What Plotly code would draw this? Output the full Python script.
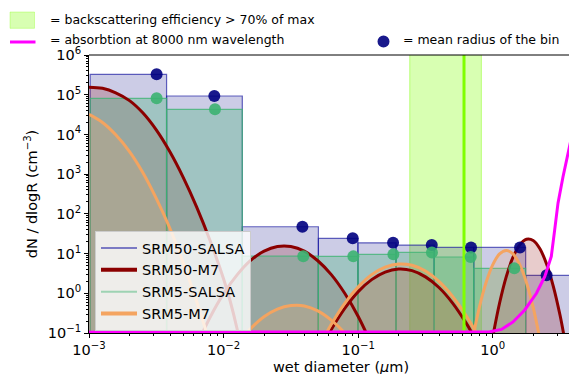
import plotly.graph_objects as go

FONT = "DejaVu Sans"

# ---------------------------------------------------------------------------
# SALSA sectional size distributions (wet diameter in µm, dN/dlogR in cm^-3)
# ---------------------------------------------------------------------------
bin_edges = [1.02e-3, 3.77e-3, 1.377e-2, 5.06e-2, 9.95e-2, 0.191, 0.367, 0.721, 1.754, 4.0]
srm50_salsa = [3.27e5, 9.27e4, 47.3, 24.2, 18.7, 16.4, 14.3, 14.3, 2.83]
srm5_salsa = [8.1e4, 4.29e4, 8.6, 8.5, 9.55, 10.7, 8.2, 4.24]

# mean diameter of each bin
srm50_mean_d = [3.18e-3, 8.53e-3, 0.0385, 0.0910, 0.1815, 0.3518, 0.689, 1.592, 2.51]
srm5_mean_d = [3.18e-3, 8.63e-3, 0.0391, 0.0920, 0.1824, 0.353, 0.685, 1.445]

# ---------------------------------------------------------------------------
# M7 modal size distributions (one curve per mode)
# ---------------------------------------------------------------------------
srm50_m7 = [
    # nucleation
    ([1.0e-3, 1.26e-3, 1.58e-3, 2.0e-3, 2.51e-3, 3.16e-3, 3.98e-3, 5.01e-3, 6.31e-3,
      7.94e-3, 1.0e-2, 1.12e-2, 1.26e-2, 1.35e-2],
     [1.55e5, 1.45e5, 1.12e5, 7.1e4, 3.5e4, 1.3e4, 3.7e3, 830, 148, 21, 2.3, 0.63, 0.126, 0.04]),
    # Aitken
    ([6.31e-3, 7.94e-3, 0.01, 0.0126, 0.0158, 0.02, 0.0251, 0.0316, 0.0398, 0.0501,
      0.0631, 0.0794, 0.1, 0.126],
     [0.049, 0.25, 0.98, 2.9, 6.6, 11.5, 15, 15, 11.5, 6.6, 2.95, 1.0, 0.26, 0.05]),
    # accumulation
    ([0.0562, 0.0631, 0.0794, 0.1, 0.1259, 0.1585, 0.1995, 0.2512, 0.3162, 0.3981,
      0.5012, 0.631, 0.708, 0.794],
     [0.060, 0.123, 0.417, 1.10, 2.21, 3.42, 4.06, 3.71, 2.59, 1.40, 0.575, 0.182, 0.093, 0.045]),
    # coarse
    ([0.955, 1.0, 1.122, 1.259, 1.413, 1.585, 1.778, 1.995, 2.239, 2.512, 2.818, 3.162,
      3.388, 3.548],
     [0.034, 0.081, 0.56, 2.63, 8.1, 16.6, 22.9, 21.4, 13.2, 5.4, 1.48, 0.275, 0.081, 0.034]),
]

srm5_m7 = [
    ([1.0e-3, 1.26e-3, 1.58e-3, 2.0e-3, 2.51e-3, 3.16e-3, 3.98e-3, 5.01e-3, 6.31e-3,
      7.41e-3, 7.94e-3],
     [3.2e4, 2.0e4, 9.8e3, 3.7e3, 1.1e3, 245, 44, 5.9, 0.62, 0.11, 0.05]),
    ([0.01413, 0.01585, 0.01995, 0.02512, 0.03162, 0.03981, 0.05012, 0.0631, 0.0794, 0.0891],
     [0.083, 0.129, 0.257, 0.40, 0.49, 0.48, 0.36, 0.21, 0.10, 0.062]),
    ([0.0562, 0.0631, 0.0794, 0.1, 0.1259, 0.1585, 0.1995, 0.2512, 0.3162, 0.3981,
      0.5012, 0.631, 0.759, 0.832],
     [0.081, 0.166, 0.56, 1.45, 2.95, 4.57, 5.47, 5.07, 3.63, 2.0, 0.85, 0.28, 0.098, 0.054]),
    ([0.692, 0.724, 0.794, 0.891, 1.0, 1.122, 1.259, 1.413, 1.585, 1.778, 1.995, 2.188, 2.291],
     [0.045, 0.102, 0.44, 1.86, 5.25, 9.8, 12.0, 9.8, 5.25, 1.86, 0.44, 0.102, 0.045]),
]

# absorption at 8000 nm (scaled onto the number-concentration axis)
absorb_d = [1e-3, 0.674, 0.948, 1.159, 1.413, 1.726, 2.11, 2.43, 2.72, 2.88, 3.05, 3.32, 3.66, 4.0]
absorb_v = [0.104, 0.1035, 0.107, 0.123, 0.19, 0.38, 1.0, 2.63, 8.5, 38.9, 186, 851, 4074, 1.6e4]

# backscattering efficiency > 70 % of max, and its peak
bsc_lo, bsc_hi, bsc_peak = 0.2415, 0.822, 0.611

x_tickvals = [1e-3, 1e-2, 1e-1, 1]
x_ticktext = ["10<sup>−3</sup>", "10<sup>−2</sup>", "10<sup>−1</sup>", "10<sup>0</sup>"]
y_tickvals = [1e-1, 1, 10, 1e2, 1e3, 1e4, 1e5, 1e6]
y_ticktext = ["10<sup>−1</sup>", "10<sup>0</sup>", "10<sup>1</sup>", "10<sup>2</sup>",
              "10<sup>3</sup>", "10<sup>4</sup>", "10<sup>5</sup>", "10<sup>6</sup>"]

FLOOR = 1e-3      # below the visible y range; closes filled polygons
CEIL = 1e8

NAVY_FILL = "rgba(0,0,128,0.2)"
NAVY_EDGE = "rgba(20,20,160,0.65)"
GREEN_FILL = "rgba(60,179,113,0.3)"
GREEN_EDGE = "rgba(60,179,113,0.75)"
RED = "#8b0000"
RED_FILL = "rgba(139,0,0,0.2)"
ORANGE = "#f4a460"
ORANGE_FILL = "rgba(244,164,96,0.2)"
CHART = "rgb(127,255,0)"


def bin_polygons(edges, heights):
    xs, ys = [], []
    for i, h in enumerate(heights):
        lo, hi = edges[i], edges[i + 1]
        xs += [lo, lo, hi, hi, lo, None]
        ys += [FLOOR, h, h, FLOOR, FLOOR, None]
    return xs, ys


def mode_polygons(modes):
    xs, ys = [], []
    for d, n in modes:
        xs += list(d) + [d[-1], d[0], None]
        ys += list(n) + [FLOOR, FLOOR, None]
    return xs, ys


def mode_lines(modes):
    xs, ys = [], []
    for d, n in modes:
        xs += list(d) + [None]
        ys += list(n) + [None]
    return xs, ys


fig = go.Figure()

# backscattering band
fig.add_trace(go.Scatter(
    x=[bsc_lo, bsc_lo, bsc_hi, bsc_hi, bsc_lo], y=[FLOOR, CEIL, CEIL, FLOOR, FLOOR],
    mode="lines", fill="toself", fillcolor="rgba(127,255,0,0.3)",
    line=dict(color="rgba(127,255,0,0.45)", width=1), showlegend=False, hoverinfo="skip"))

# SRM50 SALSA bins
bx, by = bin_polygons(bin_edges, srm50_salsa)
fig.add_trace(go.Scatter(x=bx, y=by, mode="lines", fill="toself", fillcolor=NAVY_FILL,
                         line=dict(color=NAVY_EDGE, width=1.2), showlegend=False,
                         hoverinfo="skip"))

# SRM50 M7 fills
mx, my = mode_polygons(srm50_m7)
fig.add_trace(go.Scatter(x=mx, y=my, mode="none", fill="toself", fillcolor=RED_FILL,
                         showlegend=False, hoverinfo="skip"))

# SRM5 SALSA bins
bx, by = bin_polygons(bin_edges, srm5_salsa)
fig.add_trace(go.Scatter(x=bx, y=by, mode="lines", fill="toself", fillcolor=GREEN_FILL,
                         line=dict(color=GREEN_EDGE, width=1.2), showlegend=False,
                         hoverinfo="skip"))

# SRM5 M7 fills
mx, my = mode_polygons(srm5_m7)
fig.add_trace(go.Scatter(x=mx, y=my, mode="none", fill="toself", fillcolor=ORANGE_FILL,
                         showlegend=False, hoverinfo="skip"))

# M7 mode curves
lx, ly = mode_lines(srm50_m7)
fig.add_trace(go.Scatter(x=lx, y=ly, mode="lines", line=dict(color=RED, width=3, shape="spline"),
                         showlegend=False, hoverinfo="skip"))
lx, ly = mode_lines(srm5_m7)
fig.add_trace(go.Scatter(x=lx, y=ly, mode="lines", line=dict(color=ORANGE, width=3, shape="spline"),
                         showlegend=False, hoverinfo="skip"))

# backscattering peak
fig.add_trace(go.Scatter(x=[bsc_peak, bsc_peak], y=[FLOOR, CEIL], mode="lines",
                         line=dict(color=CHART, width=3), showlegend=False, hoverinfo="skip"))

# bin mean diameters
fig.add_trace(go.Scatter(x=srm50_mean_d, y=srm50_salsa, mode="markers",
                         marker=dict(color="rgba(0,0,128,0.9)", size=12, line=dict(width=0)),
                         showlegend=False, hoverinfo="skip"))
fig.add_trace(go.Scatter(x=srm5_mean_d, y=srm5_salsa, mode="markers",
                         marker=dict(color="rgba(60,179,113,0.9)", size=12, line=dict(width=0)),
                         showlegend=False, hoverinfo="skip"))

# absorption
fig.add_trace(go.Scatter(x=absorb_d, y=absorb_v, mode="lines",
                         line=dict(color="magenta", width=3), showlegend=False, hoverinfo="skip"))

# legend entries
legend_items = [
    ("SRM50-SALSA", "rgba(20,20,160,0.7)", 1.5),
    ("SRM50-M7", RED, 4),
    ("SRM5-SALSA", "rgba(60,179,113,0.45)", 2),
    ("SRM5-M7", ORANGE, 4),
]
for name, color, width in legend_items:
    fig.add_trace(go.Scatter(x=[None], y=[None], mode="lines", name=name,
                             line=dict(color=color, width=width)))


# top legend (outside axes); positions given in figure pixels
def px_x(p):
    return (p - 89) / 480.0


def px_y(p):
    return (333 - p) / 278.0


shapes = [
    # top spine
    dict(type="line", xref="paper", yref="paper", x0=0, x1=1, y0=1, y1=1,
         line=dict(color="black", width=1)),
    dict(type="rect", xref="paper", yref="paper", x0=px_x(10), x1=px_x(34.5),
         y0=px_y(28.3), y1=px_y(12), fillcolor="rgba(127,255,0,0.3)",
         line=dict(color="rgba(127,255,0,0.3)", width=1)),
    dict(type="line", xref="paper", yref="paper", x0=px_x(10), x1=px_x(35.5),
         y0=px_y(42), y1=px_y(42), line=dict(color="magenta", width=3)),
    dict(type="circle", xref="paper", yref="paper", xsizemode="pixel", ysizemode="pixel",
         xanchor=px_x(383.5), yanchor=px_y(41.5), x0=-6, x1=6, y0=-6, y1=6,
         fillcolor="rgba(0,0,128,0.9)", line=dict(width=0)),
]

annotations = [
    dict(text="= backscattering efficiency > 70% of max", xref="paper", yref="paper",
         x=px_x(48), y=px_y(19.5), xanchor="left", yanchor="middle", showarrow=False,
         font=dict(size=12.5)),
    dict(text="= absorbtion at 8000 nm wavelength", xref="paper", yref="paper",
         x=px_x(48), y=px_y(39.5), xanchor="left", yanchor="middle", showarrow=False,
         font=dict(size=12.5)),
    dict(text="= mean radius of the bin", xref="paper", yref="paper",
         x=px_x(401), y=px_y(39.5), xanchor="left", yanchor="middle", showarrow=False,
         font=dict(size=12.5)),
    dict(text="wet diameter (<i>μ</i>m)", xref="paper", yref="paper",
         x=px_x(340.5), y=px_y(367), xanchor="center", yanchor="middle", showarrow=False,
         font=dict(size=14.5)),
]

axis_common = dict(
    type="log", ticks="outside", ticklen=4, tickwidth=1, tickcolor="black",
    showline=True, linecolor="black", linewidth=1, showgrid=False, zeroline=False,
    tickfont=dict(size=14.5, color="black"),
    minor=dict(ticks="outside", ticklen=2, tickwidth=0.8, tickcolor="black",
               dtick="D1", showgrid=False),
)

fig.update_layout(
    width=569, height=374,
    margin=dict(l=89, r=0, t=55, b=41),
    paper_bgcolor="white", plot_bgcolor="white",
    font=dict(family=FONT, size=14.5, color="black"),
    xaxis=dict(range=[-3, 0.566], tickmode="array", tickvals=x_tickvals,
               ticktext=x_ticktext, **axis_common),
    yaxis=dict(range=[-1, 6], tickmode="array", tickvals=y_tickvals,
               ticktext=y_ticktext, title=dict(text="dN / dlogR (cm<sup>−3</sup>)",
                                               font=dict(size=14.5), standoff=6),
               **axis_common),
    legend=dict(x=0.0125, y=px_y(231), xanchor="left", yanchor="top",
                bgcolor="rgba(255,255,255,0.8)", bordercolor="#cccccc", borderwidth=1,
                font=dict(size=14.5, color="black"), tracegroupgap=0, itemwidth=36),
    shapes=shapes, annotations=annotations,
)

fig.write_html("out.html")
